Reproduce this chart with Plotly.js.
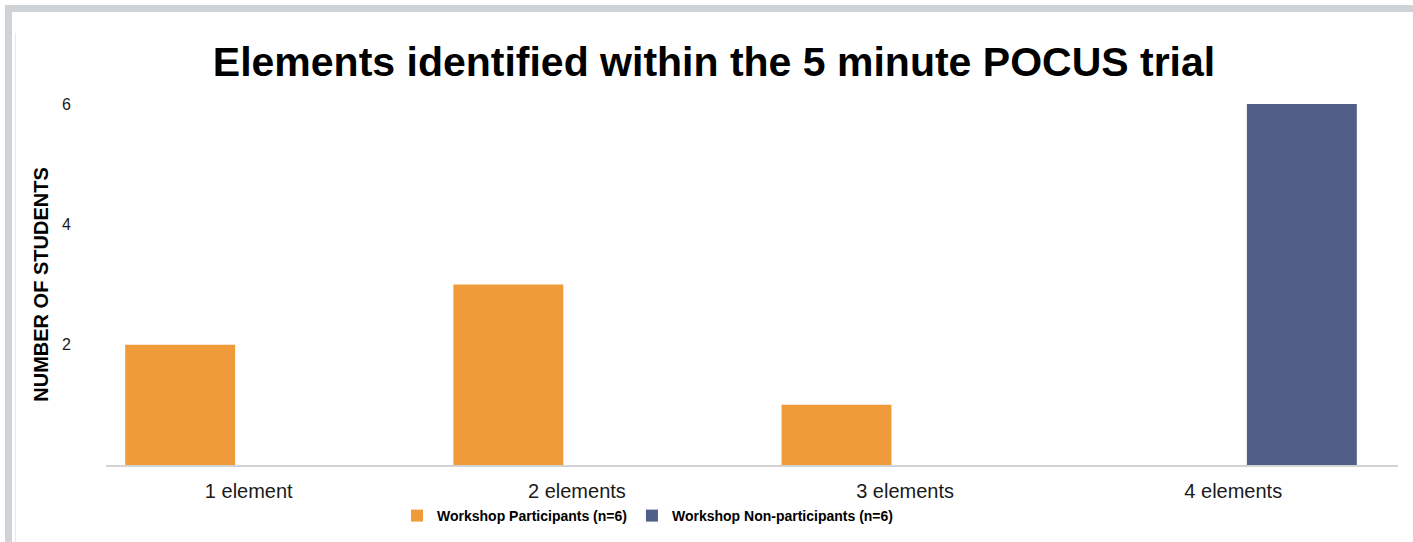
<!DOCTYPE html>
<html>
<head>
<meta charset="utf-8">
<script src="https://cdn.plot.ly/plotly-3.0.1.min.js"></script>
<style>
  html, body { margin: 0; padding: 0; background: #ffffff; }
  #wrap { position: relative; width: 1413px; height: 542px; overflow: hidden; }
  #chart { position: absolute; left: 0; top: 0; width: 1413px; height: 542px; }
  .frame { position: absolute; background: #cfd3d6; pointer-events: none; }
  #ruler { position: absolute; left: 15px; top: 33px; width: 1px; height: 509px; background: #e8e8e8; pointer-events: none; }
</style>
</head>
<body>
<div id="wrap">
  <div id="chart"></div>
  <div class="frame" style="left:5px; top:5px; width:1408px; height:7px;"></div>
  <div class="frame" style="left:5px; top:5px; width:7px; height:537px;"></div>
  <div id="ruler"></div>
</div>
<script>
// ---- data ----
const categories = ["1 element", "2 elements", "3 elements", "4 elements"];
const participants = [2, 3, 1, 0];
const nonParticipants = [0, 0, 0, 6];
const seriesNames = ["Workshop Participants (n=6)", "Workshop Non-participants (n=6)"];
const yTickVals = [2, 4, 6];
const yTickText = ["2", "4", "6"];

const FONT = '"Liberation Sans", Arial, Helvetica, sans-serif';

const traces = [
  {
    type: "bar",
    name: seriesNames[0],
    x: categories,
    y: participants,
    width: 0.335,
    offset: -0.3765,
    marker: { color: "#f09b3a", line: { width: 0 } },
    hoverinfo: "x+y+name"
  },
  {
    type: "bar",
    name: seriesNames[1],
    x: categories,
    y: nonParticipants,
    width: 0.335,
    offset: 0.0415,
    marker: { color: "#4f5f88", line: { width: 0 } },
    hoverinfo: "x+y+name"
  }
];

const layout = {
  width: 1413,
  height: 542,
  paper_bgcolor: "#ffffff",
  plot_bgcolor: "#ffffff",
  margin: { l: 106, r: 15, t: 104, b: 77, pad: 0 },
  font: { family: FONT, color: "#000000" },
  title: {
    text: "Elements identified within the 5 minute POCUS trial",
    font: { family: FONT, size: 41, weight: "bold", color: "#000000" },
    xref: "container",
    x: 714 / 1413,
    xanchor: "center",
    yref: "container",
    y: 1 - 62 / 542,
    yanchor: "middle"
  },
  barmode: "overlay",
  xaxis: {
    type: "category",
    range: [-0.435, 3.502],
    showline: true,
    linecolor: "#d3d3d3",
    linewidth: 1.5,
    showgrid: false,
    zeroline: false,
    ticks: "",
    ticklabelstandoff: 7,
    tickfont: { family: FONT, size: 20, color: "#1a1a1a" },
    fixedrange: true
  },
  yaxis: {
    range: [0, 6],
    showline: false,
    showgrid: false,
    zeroline: false,
    ticks: "",
    tickmode: "array",
    tickvals: yTickVals,
    ticktext: yTickText,
    ticklabelstandoff: 34,
    tickfont: { family: FONT, size: 16, color: "#1a1a1a" },
    title: {
      text: "NUMBER OF STUDENTS",
      font: { family: FONT, size: 20, weight: "bold", color: "#000000" },
      standoff: 8
    },
    fixedrange: true
  },
  showlegend: true,
  legend: {
    orientation: "h",
    xref: "container",
    yref: "container",
    x: 397 / 1413,
    xanchor: "left",
    y: 1 - 516 / 542,
    yanchor: "middle",
    font: { family: FONT, size: 14, weight: "bold", color: "#000000" },
    bgcolor: "rgba(0,0,0,0)",
    itemwidth: 30,
    traceorder: "normal"
  }
};

Plotly.newPlot("chart", traces, layout, { displayModeBar: false, staticPlot: true });
</script>
</body>
</html>
